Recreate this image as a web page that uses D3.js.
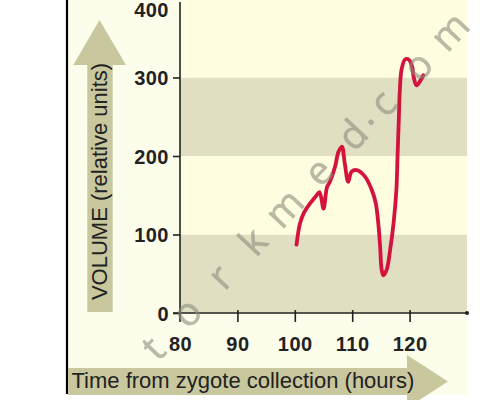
<!DOCTYPE html>
<html>
<head>
<meta charset="utf-8">
<script src="https://cdn.jsdelivr.net/npm/d3@7/dist/d3.min.js"></script>
<style>
  html, body { margin: 0; padding: 0; background: #ffffff; }
  svg { display: block; }
</style>
</head>
<body>
<svg id="chart" width="500" height="400"></svg>
<script>
// ---- data ----
const hours  = [100.3, 100.9, 101.6, 102.6, 103.6, 104.3, 105.0, 105.6, 106.1, 107.0, 107.6, 108.2, 108.7, 109.3, 109.9, 110.8, 112.2, 113.4, 114.1, 114.6, 114.9, 115.1, 115.4, 116.0, 116.6, 117.2, 117.7, 117.9, 118.1, 118.3, 118.6, 119.2, 119.8, 120.4, 120.7, 121.2, 121.8, 122.4];
const volume = [87, 114, 128, 139, 148, 154, 133, 160, 167, 186, 205, 212, 191, 167, 180, 182, 174, 157, 140, 110, 80, 57, 48, 55, 80, 114, 157, 200, 242, 284, 310, 323, 323, 315, 301, 290, 295, 303];
const xTicks = [80, 90, 100, 110, 120];
const yTicks = [0, 100, 200, 300, 400];
const bandEdges = [0, 100, 200, 300, 400];
const xTitle = "Time from zygote collection (hours)";
const yTitle = "VOLUME (relative units)";
const watermarkChars = ["t", "o", "r", "k", "m", "e", "d", ".", "c", "o", "m"];
const watermarkSteps = [0, 49, 98, 146, 192, 242, 292, 314, 336, 387, 434];

// ---- layout ----
const svg = d3.select("#chart");
const x = d3.scaleLinear().domain([80, 130]).range([180, 467]);
const y = d3.scaleLinear().domain([0, 400]).range([313, -1]);

const C = {
  outer: "#fdfdec",
  light: "#fffde0",
  dark: "#e1dfc2",
  arrow: "#c8c79d",
  ink: "#222222",
  curve: "#d3123e"
};

// outer panel
svg.append("rect").attr("x", 67).attr("y", 0).attr("width", 400).attr("height", 395).attr("fill", C.outer);

// bands
const bands = d3.pairs(bandEdges);
svg.append("g").selectAll("rect").data(bands).join("rect")
  .attr("x", x(80))
  .attr("width", x(130) - x(80))
  .attr("y", d => y(d[1]))
  .attr("height", d => y(d[0]) - y(d[1]))
  .attr("fill", (d, i) => i % 2 === 0 ? C.dark : C.light);
svg.append("rect").attr("x", x(80)).attr("y", 0).attr("width", x(130) - x(80)).attr("height", Math.max(0, y(400))).attr("fill", C.light);

// left border
svg.append("line").attr("x1", 67).attr("x2", 67).attr("y1", 0).attr("y2", 394)
  .attr("stroke", "#000").attr("stroke-width", 2.2);

// y title arrow
svg.append("path")
  .attr("d", "M99.5,20 L126,65 L112.7,65 L112.7,312 L87.3,312 L87.3,65 L73.3,65 Z")
  .attr("fill", C.arrow);
// x title arrow
svg.append("path")
  .attr("d", "M68,368 L407,368 L407,355 L448,381.5 L407,408 L407,395 L68,395 Z")
  .attr("fill", C.arrow);

// titles
svg.append("text")
  .attr("transform", "translate(107,181.5) rotate(-90)")
  .attr("text-anchor", "middle")
  .attr("font-family", "'Liberation Sans', Arial, sans-serif")
  .attr("font-size", 22)
  .attr("fill", C.ink)
  .text(yTitle);
svg.append("text")
  .attr("x", 71.5).attr("y", 388)
  .attr("font-family", "'Liberation Sans', Arial, sans-serif")
  .attr("font-size", 22)
  .attr("fill", C.ink)
  .text(xTitle);

// axes
const tickFont = "'Liberation Sans', Arial, sans-serif";
const yAxis = d3.axisLeft(y).tickValues(yTicks).tickSizeInner(7).tickSizeOuter(0).tickPadding(4);
const gy = svg.append("g").attr("transform", `translate(${x(80)},0)`).call(yAxis);
gy.select(".domain").remove();
gy.selectAll(".tick line").attr("stroke", C.ink).attr("stroke-width", 1.6);
gy.selectAll(".tick text")
  .attr("font-family", tickFont).attr("font-weight", "bold").attr("font-size", 20)
  .attr("fill", C.ink).attr("letter-spacing", 0.5)
  .attr("dy", "0.36em");
// keep top label inside the picture
gy.selectAll(".tick").filter(d => y(d) < 8)
  .attr("transform", d => `translate(0,9.8)`)
  .select("line").remove();

const xAxis = d3.axisBottom(x).tickValues(xTicks).tickSizeInner(9).tickSizeOuter(0).tickPadding(15);
const gx = svg.append("g").attr("transform", `translate(0,${y(0)})`).call(xAxis);
gx.select(".domain").remove();
gx.selectAll(".tick line").attr("y1", -3).attr("stroke", C.ink).attr("stroke-width", 1.6);
gx.selectAll(".tick").filter(d => d === 80).select("line").remove();
gx.selectAll(".tick text")
  .attr("font-family", tickFont).attr("font-weight", "bold").attr("font-size", 20)
  .attr("fill", C.ink).attr("letter-spacing", 0.5);

// axis lines
svg.append("line").attr("x1", x(80)).attr("x2", x(80)).attr("y1", 2).attr("y2", y(0) + 9)
  .attr("stroke", C.ink).attr("stroke-width", 1.6);
svg.append("line").attr("x1", x(80) - 7).attr("x2", x(130)).attr("y1", y(0)).attr("y2", y(0))
  .attr("stroke", C.ink).attr("stroke-width", 1.6);
svg.append("circle").attr("cx", x(130)).attr("cy", y(0)).attr("r", 2).attr("fill", C.ink);

// curve
const pts = hours.map((h, i) => [h, volume[i]]);
const line = d3.line().x(d => x(d[0])).y(d => y(d[1])).curve(d3.curveCatmullRom.alpha(0.5));
svg.append("path").datum(pts)
  .attr("d", line)
  .attr("fill", "none")
  .attr("stroke", C.curve)
  .attr("stroke-width", 3.8)
  .attr("stroke-linecap", "round")
  .attr("stroke-linejoin", "round");

// watermark
const ang = -46.9 * Math.PI / 180;
const wm = svg.append("g").attr("fill", "#8c8c7c").attr("stroke", "#8c8c7c").attr("stroke-width", 0.6).attr("opacity", 0.6);
watermarkChars.forEach((ch, i) => {
  const s = watermarkSteps[i];
  const px = 155 + s * Math.cos(ang);
  const py = 350 + s * Math.sin(ang);
  wm.append("text")
    .attr("transform", `translate(${px},${py}) rotate(-46.9)`)
    .attr("text-anchor", "middle")
    .attr("dy", ch === "." ? "0.1em" : "0.28em")
    .attr("font-family", "'Open Sans', 'DejaVu Sans', sans-serif")
    .attr("font-weight", 400)
    .attr("font-size", 39)
    .text(ch);
});
</script>
</body>
</html>
